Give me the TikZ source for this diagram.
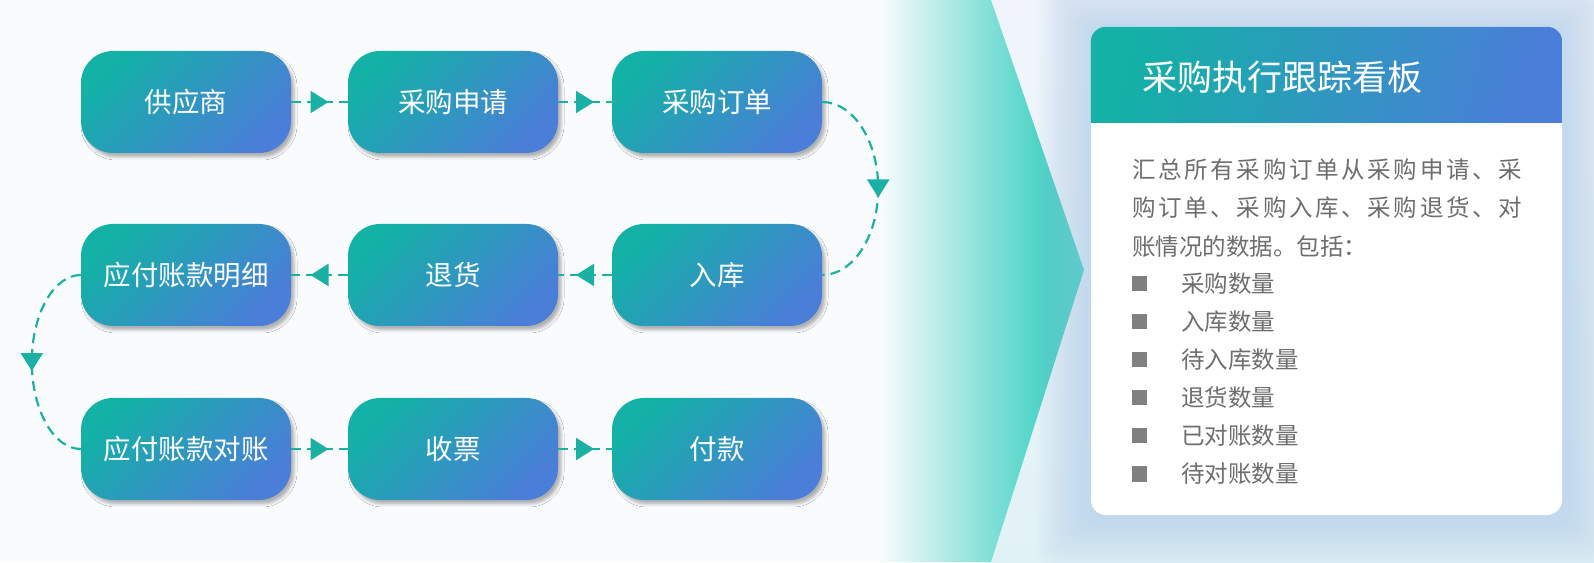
\documentclass[tikz,border=0pt]{standalone}
\usepackage{fontspec}
\setmainfont{Noto Sans CJK SC}
\usetikzlibrary{arrows.meta,decorations.markings,shadows.blur}
\definecolor{tealA}{HTML}{13B1A6}
\definecolor{blueA}{HTML}{4A7ED8}
\definecolor{connC}{HTML}{1BB0A4}
\definecolor{chevC}{HTML}{1CC8B8}
\definecolor{txtC}{HTML}{6E6E6E}
\definecolor{bulC}{HTML}{808080}
\definecolor{glowC}{HTML}{AFCBEE}
\definecolor{bgC}{HTML}{F9FBFC}
\definecolor{bgTop}{HTML}{F1F5FB}
\definecolor{bgBot}{HTML}{E1F2F6}
\tikzset{
  flowbox/.style={rounded corners=32pt, minimum width=210pt, minimum height=102pt,
    top color=tealA, bottom color=blueA, shading angle=45, text=white,
    font=\fontsize{27.5}{30}\selectfont, inner sep=0pt,
    blur shadow={shadow xshift=3pt, shadow yshift=-4pt, shadow blur radius=3pt, shadow opacity=30}},
  conn/.style={color=connC, line width=2.2pt, dash pattern=on 10pt off 6pt,
    postaction={decorate},
    decoration={markings, mark=at position 0.5 with {\arrow[xshift=9pt]{Triangle[length=18pt,width=22pt]}}}},
  bodytxt/.style={anchor=west, inner sep=0pt, text=txtC, font=\fontsize{23.5}{26}\selectfont},
  bulsq/.style={fill=bulC, minimum size=15pt, inner sep=0pt},
}
\begin{document}
\begin{tikzpicture}[x=1pt,y=1pt]
\useasboundingbox (0,0) rectangle (1594,562);
% background
\fill[bgC] (0,0) rectangle (1594,562);
\shade[top color=bgTop, bottom color=bgBot] (985,0) rectangle (1594,562);
% chevron
\shade[left color=bgC, right color=chevC] (880,562) -- (991,562) -- (1084,292) -- (991,0) -- (880,0) -- cycle;
% card glow
\foreach \r in {3,6,...,54} {
  \fill[glowC, opacity=0.045, rounded corners=15pt] (1091-\r,47-\r) rectangle (1562+\r,535+\r);
}
% card
\node[fill=white, rounded corners=15pt, minimum width=471pt, minimum height=488pt, inner sep=0pt] (card) at (1326.5,291) {};
\begin{scope}
  \clip[rounded corners=15pt] (card.south west) rectangle (card.north east);
  \shade[top color=tealA, bottom color=blueA, shading angle=75] (card.north west) rectangle ([yshift=-96pt]card.north east);
\end{scope}
\node[anchor=west, inner sep=0pt, text=white, font=\fontsize{35}{40}\selectfont] (title) at (1142,485) {采购执行跟踪看板};
\node[bodytxt] (l1) at (1132,392) {\makebox[390pt][s]{汇\hfill 总\hfill 所\hfill 有\hfill 采\hfill 购\hfill 订\hfill 单\hfill 从\hfill 采\hfill 购\hfill 申\hfill 请\hfill 、\hfill 采}};
\node[bodytxt] (l2) at (1132,354) {\makebox[390pt][s]{购\hfill 订\hfill 单\hfill 、\hfill 采\hfill 购\hfill 入\hfill 库\hfill 、\hfill 采\hfill 购\hfill 退\hfill 货\hfill 、\hfill 对}};
\node[bodytxt] (l3) at (1132,315) {账情况的数据。包括：};
\foreach \t [count=\i] in {采购数量,入库数量,待入库数量,退货数量,已对账数量,待对账数量} {
  \node[bulsq] (s\i) at (1139.5,{278-38*(\i-1)}) {};
  \node[bodytxt] (b\i) at (1181,{278-38*(\i-1)}) {\t};
}
% flow boxes
\node[flowbox] (sup) at (186,460) {供应商};
\node[flowbox] (req) at (453,460) {采购申请};
\node[flowbox] (po)  at (717,460) {采购订单};
\node[flowbox] (apd) at (186,287) {应付账款明细};
\node[flowbox] (ret) at (453,287) {退货};
\node[flowbox] (inb) at (717,287) {入库};
\node[flowbox] (apr) at (186,113) {应付账款对账};
\node[flowbox] (inv) at (453,113) {收票};
\node[flowbox] (pay) at (717,113) {付款};
% connectors
\draw[conn] (sup) -- (req);
\draw[conn] (req) -- (po);
\draw[conn] (po.east) arc[start angle=90, end angle=-90, x radius=56, y radius=86.5];
\draw[conn] (inb) -- (ret);
\draw[conn] (ret) -- (apd);
\draw[conn] (apd.west) arc[start angle=90, end angle=270, x radius=49, y radius=87];
\draw[conn] (apr) -- (inv);
\draw[conn] (inv) -- (pay);
\end{tikzpicture}
\end{document}
